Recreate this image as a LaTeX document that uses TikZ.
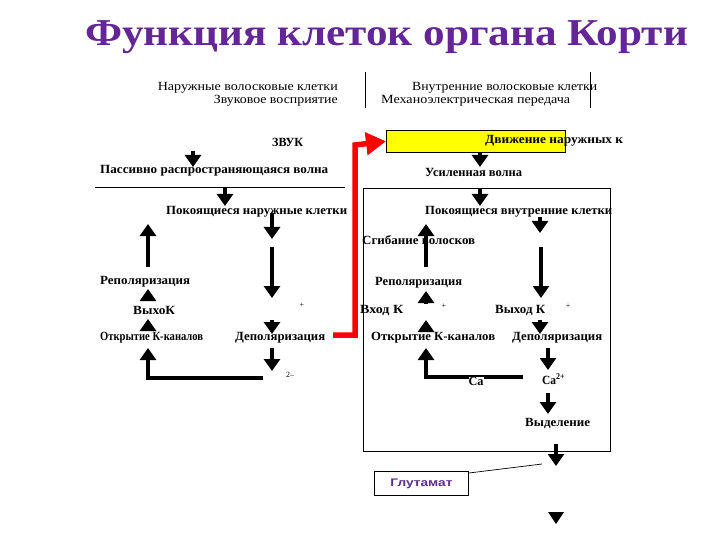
\documentclass[tikz,border=0pt]{standalone}
\usepackage{fontspec}
\usepackage{graphicx}
\setmainfont{Liberation Serif}
\newfontfamily\glutfont{Liberation Sans}
\usetikzlibrary{arrows.meta}
\definecolor{titlepurple}{RGB}{100,38,150}
\definecolor{glutpurple}{RGB}{95,45,135}
\definecolor{boxyellow}{RGB}{255,255,0}
\newcommand\fitto[2]{\setbox0\hbox{#2}\pgfmathsetmacro\sxf{#1/\the\wd0}\scalebox{\sxf}[1]{\box0}}
\begin{document}
\begin{tikzpicture}[x=1pt,y=-1pt,
  txt/.style={inner sep=0pt,font=\fontsize{12.5}{13}\selectfont\bfseries},
  htxt/.style={inner sep=0pt,font=\fontsize{12.5}{13}\selectfont},
  arr/.style={line width=3.5pt,-{Triangle[length=12pt,width=16pt]}},
  thin/.style={line width=0.9pt},
  redarr/.style={line width=5.5pt,red,line join=miter,-{Triangle[length=20pt,width=22pt]}}]
\useasboundingbox (0,0) rectangle (720,540);
\fill[white] (0,0) rectangle (720,540);
% title
\node[inner sep=0pt,text=titlepurple,font=\fontsize{38}{40}\selectfont\bfseries] (title) at (386.5,37) {\fitto{603}{Функция клеток органа Корти}};
% header
\node[htxt,anchor=east] (h1) at (338,88) {\fitto{180}{Наружные волосковые клетки}};
\node[htxt,anchor=east] (h2) at (338,101) {\fitto{124}{Звуковое восприятие}};
\node[htxt,anchor=west] (h3) at (412,88) {\fitto{185}{Внутренние волосковые клетки}};
\node[htxt,anchor=west] (h4) at (381,101) {\fitto{189}{Механоэлектрическая передача}};
\coordinate (v1a) at (365,72); \coordinate (v1b) at (365,108);
\coordinate (v2a) at (590,72); \coordinate (v2b) at (590,108);
\draw[thin] (v1a) -- (v1b);
\draw[thin] (v2a) -- (v2b);
% left column
\node[txt,anchor=west] (zvuk) at (272,142) {\fitto{31}{ЗВУК}};
\node[txt,anchor=west] (passive) at (100,171) {\fitto{228}{Пассивно распространяющаяся волна}};
\coordinate (hla) at (95,187); \coordinate (hlb) at (345,187);
\draw[thin] (hla) -- (hlb);
\node[txt,anchor=west] (restout) at (166,212) {\fitto{181}{Покоящиеся наружные клетки}};
\node[txt,anchor=west] (repolL) at (100,282) {\fitto{90}{Реполяризация}};
\node[txt,anchor=west] (vyhL) at (133,310) {\fitto{42}{ВыхоК}};
\node[txt,anchor=center,font=\fontsize{8}{8}\selectfont] (plusL) at (302,305) {+};
\node[txt,anchor=west] (openL) at (100,338) {\fitto{103}{Открытие К-каналов}};
\node[txt,anchor=west] (depolL) at (235,338) {\fitto{90}{Деполяризация}};
\node[txt,anchor=center,font=\fontsize{8}{8}\selectfont] (twoL) at (290,375) {2--};
\coordinate (a1s) at (193,151); \coordinate (a1e) at (193,167);
\coordinate (a2s) at (225,188); \coordinate (a2e) at (225,206);
\coordinate (a3s) at (148,267); \coordinate (a3e) at (148,224);
\coordinate (a4s) at (272,213); \coordinate (a4e) at (272,239);
\coordinate (a5s) at (272,247); \coordinate (a5e) at (272,298);
\coordinate (a6s) at (148,301); \coordinate (a6e) at (148,289);
\coordinate (a7s) at (148,331); \coordinate (a7e) at (148,319);
\coordinate (a8s) at (263,378); \coordinate (a8m) at (148,378); \coordinate (a8e) at (148,348);
\coordinate (a9s) at (272,320); \coordinate (a9e) at (272,334);
\coordinate (a10s) at (272,348); \coordinate (a10e) at (272,371);
\draw[arr] (a1s) -- (a1e);
\draw[arr] (a2s) -- (a2e);
\draw[arr] (a3s) -- (a3e);
\draw[arr] (a4s) -- (a4e);
\draw[arr] (a5s) -- (a5e);
\draw[arr] (a6s) -- (a6e);
\draw[arr] (a7s) -- (a7e);
\draw[arr,line join=miter] (a8s) -- (a8m) -- (a8e);
\draw[arr] (a9s) -- (a9e);
\draw[arr] (a10s) -- (a10e);
% red arrow
\node[draw=black,line width=0.6pt,fill=boxyellow,minimum width=179pt,minimum height=22pt,inner sep=0pt,anchor=north west] (ybox) at (386,130) {};
\coordinate (r1) at (333,335); \coordinate (r2) at (355,335); \coordinate (r3) at (355,145);
\draw[redarr] (r1) -- (r2) -- (r3) -- (ybox.west);
\node[txt,anchor=west] (dvizh) at (485,141) {\fitto{138}{Движение наружных к}};
% right column
\node[draw=black,thin,minimum width=247pt,minimum height=263pt,inner sep=0pt,anchor=north west] (bigbox) at (363,188) {};
\node[txt,anchor=west] (usil) at (425,172) {\fitto{97}{Усиленная волна}};
\node[txt,anchor=west] (restin) at (425,212) {\fitto{187}{Покоящиеся внутренние клетки}};
\node[txt,anchor=west] (sgib) at (362,240) {\fitto{113}{Сгибание волосков}};
\node[txt,anchor=west] (repolR) at (375,283) {\fitto{87}{Реполяризация}};
\node[txt,anchor=west] (vhodR) at (360,310) {\fitto{43}{Вход К}};
\node[txt,anchor=center,font=\fontsize{8}{8}\selectfont] (plusR1) at (444,306) {+};
\node[txt,anchor=west] (vyhodR) at (495,310) {\fitto{50}{Выход К}};
\node[txt,anchor=center,font=\fontsize{8}{8}\selectfont] (plusR2) at (568,306) {+};
\node[txt,anchor=west] (openR) at (371,338) {\fitto{124}{Открытие К-каналов}};
\node[txt,anchor=west] (depolR) at (512,338) {\fitto{90}{Деполяризация}};
\node[txt,anchor=west] (vydel) at (525,423) {\fitto{65}{Выделение}};
\coordinate (b1s) at (480,152); \coordinate (b1e) at (480,167);
\coordinate (b2s) at (480,188); \coordinate (b2e) at (480,206);
\coordinate (b3s) at (540,217); \coordinate (b3e) at (540,233);
\coordinate (b4s) at (426,267); \coordinate (b4e) at (426,224);
\coordinate (b5s) at (541,247); \coordinate (b5e) at (541,298);
\coordinate (b6s) at (426,304); \coordinate (b6e) at (426,291);
\coordinate (b7s) at (426,332); \coordinate (b7e) at (426,320);
\coordinate (b8s) at (540,320); \coordinate (b8e) at (540,334);
\coordinate (b9s) at (523,377); \coordinate (b9m) at (426,377); \coordinate (b9e) at (426,348);
\coordinate (b10s) at (548,348); \coordinate (b10e) at (548,370);
\coordinate (b11s) at (548,393); \coordinate (b11e) at (548,414);
\coordinate (b12s) at (556,444); \coordinate (b12e) at (556,466);
\coordinate (b13s) at (556,512); \coordinate (b13e) at (556,524);
\draw[arr] (b1s) -- (b1e);
\draw[arr] (b2s) -- (b2e);
\draw[arr] (b3s) -- (b3e);
\draw[arr] (b4s) -- (b4e);
\draw[arr] (b5s) -- (b5e);
\draw[arr] (b6s) -- (b6e);
\draw[arr] (b7s) -- (b7e);
\draw[arr] (b8s) -- (b8e);
\draw[arr,line join=miter] (b9s) -- (b9m) -- (b9e);
\draw[arr] (b10s) -- (b10e);
\draw[arr] (b11s) -- (b11e);
\draw[arr] (b12s) -- (b12e);
\fill (b13s) -- ++(-8,0) -- (b13e) -- ++(8,-12) -- cycle;
\node[fill=white,inner sep=0.5pt,txt] (ca) at (476,381) {\fitto{15}{Ca}};
\node[txt,anchor=west] (ca2) at (542,379) {\fitto{23}{Ca\textsuperscript{2+}}};
% glutamate
\node[draw=black,thin,minimum width=94pt,minimum height=24pt,inner sep=0pt,anchor=north west,text=glutpurple,font=\glutfont\fontsize{11}{12}\selectfont\bfseries] (glut) at (374,471) {\fitto{62}{Глутамат}};
\coordinate (gl) at (542,464);
\draw[line width=0.7pt] (glut.north east) ++(0,2) -- (gl);
\end{tikzpicture}
\end{document}
